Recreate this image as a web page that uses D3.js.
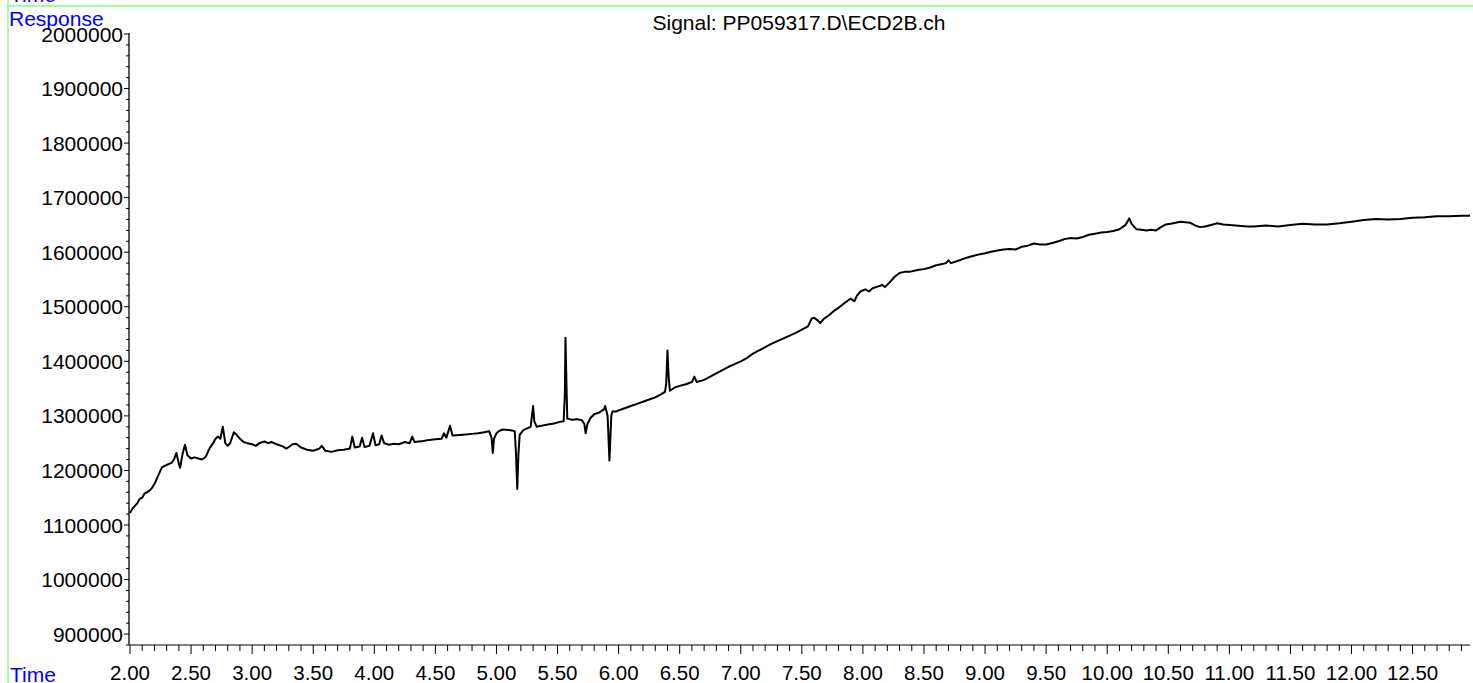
<!DOCTYPE html>
<html><head><meta charset="utf-8">
<script src="https://cdn.jsdelivr.net/npm/d3@7"></script>
<style>body{margin:0;background:#fff}svg{display:block}text{font-family:"Liberation Sans",Arial,sans-serif}</style>
</head><body>
<svg id="c" width="1473" height="683"></svg>
<script>
const title = "Signal: PP059317.D\\ECD2B.ch";
const xTicks = [2.00,2.50,3.00,3.50,4.00,4.50,5.00,5.50,6.00,6.50,7.00,7.50,8.00,8.50,9.00,9.50,10.00,10.50,11.00,11.50,12.00,12.50];
const yTicks = [900000,1000000,1100000,1200000,1300000,1400000,1500000,1600000,1700000,1800000,1900000,2000000];
const times = [2.00,2.02,2.04,2.06,2.08,2.10,2.12,2.14,2.16,2.18,2.20,2.22,2.24,2.26,2.28,2.30,2.32,2.34,2.36,2.38,2.40,2.41,2.43,2.45,2.47,2.50,2.53,2.56,2.59,2.62,2.65,2.68,2.70,2.72,2.74,2.76,2.78,2.80,2.82,2.85,2.87,2.90,2.93,2.96,3.00,3.03,3.06,3.10,3.13,3.16,3.20,3.25,3.28,3.30,3.33,3.36,3.40,3.45,3.50,3.55,3.57,3.60,3.65,3.70,3.75,3.80,3.82,3.84,3.88,3.90,3.92,3.96,3.99,4.01,4.04,4.06,4.08,4.12,4.16,4.20,4.25,4.29,4.31,4.33,4.40,4.45,4.50,4.55,4.57,4.59,4.62,4.64,4.70,4.75,4.80,4.85,4.90,4.94,4.96,4.97,4.98,5.00,5.02,5.05,5.10,5.13,5.15,5.16,5.17,5.18,5.19,5.22,5.26,5.28,5.30,5.31,5.33,5.37,5.42,5.47,5.52,5.55,5.56,5.565,5.575,5.58,5.62,5.66,5.70,5.72,5.73,5.745,5.77,5.80,5.84,5.88,5.89,5.91,5.925,5.94,5.95,5.98,6.00,6.05,6.10,6.15,6.20,6.25,6.30,6.35,6.38,6.39,6.40,6.41,6.42,6.46,6.50,6.55,6.60,6.62,6.64,6.70,6.75,6.80,6.85,6.90,6.95,7.00,7.05,7.10,7.15,7.20,7.25,7.30,7.35,7.40,7.45,7.50,7.55,7.58,7.60,7.63,7.65,7.68,7.72,7.76,7.80,7.84,7.88,7.90,7.93,7.95,7.98,8.02,8.05,8.08,8.12,8.16,8.18,8.22,8.26,8.30,8.34,8.38,8.42,8.46,8.50,8.55,8.60,8.64,8.68,8.70,8.72,8.75,8.80,8.85,8.90,8.95,9.00,9.05,9.10,9.15,9.20,9.25,9.30,9.35,9.40,9.45,9.50,9.55,9.60,9.65,9.70,9.75,9.80,9.85,9.90,9.95,10.00,10.05,10.10,10.15,10.18,10.20,10.24,10.28,10.32,10.36,10.40,10.44,10.48,10.52,10.56,10.60,10.64,10.68,10.72,10.76,10.80,10.85,10.90,10.95,11.00,11.05,11.10,11.15,11.20,11.30,11.40,11.50,11.60,11.70,11.80,11.90,12.00,12.10,12.20,12.30,12.40,12.50,12.60,12.70,12.80,12.90,12.97];
const responses = [1122,1130,1135,1140,1148,1150,1158,1160,1163,1168,1175,1185,1195,1205,1208,1210,1212,1214,1220,1232,1212,1205,1230,1247,1228,1222,1224,1222,1220,1225,1240,1250,1258,1262,1258,1280,1250,1245,1250,1270,1266,1258,1252,1250,1248,1245,1250,1253,1250,1252,1248,1244,1240,1243,1248,1249,1242,1238,1236,1240,1245,1236,1234,1237,1238,1240,1262,1242,1244,1260,1243,1245,1268,1246,1248,1264,1250,1247,1249,1248,1252,1250,1262,1252,1254,1256,1257,1258,1268,1260,1282,1264,1265,1266,1267,1268,1270,1272,1260,1232,1258,1268,1272,1275,1274,1273,1272,1230,1166,1230,1265,1274,1278,1280,1318,1290,1280,1282,1284,1286,1289,1290,1340,1443,1340,1295,1293,1294,1292,1285,1268,1285,1296,1303,1306,1312,1318,1300,1218,1300,1308,1308,1310,1314,1318,1322,1326,1330,1334,1340,1344,1360,1420,1370,1346,1352,1355,1358,1362,1372,1362,1366,1372,1378,1384,1390,1395,1400,1406,1414,1420,1426,1432,1437,1442,1447,1452,1458,1464,1478,1480,1475,1470,1478,1484,1492,1498,1505,1512,1515,1510,1520,1528,1532,1528,1534,1537,1540,1536,1545,1555,1562,1564,1564,1566,1568,1569,1572,1576,1578,1580,1585,1580,1582,1586,1590,1593,1596,1598,1601,1603,1605,1606,1605,1610,1612,1616,1614,1614,1617,1620,1624,1626,1625,1628,1632,1634,1636,1637,1639,1642,1650,1662,1652,1642,1641,1640,1641,1640,1646,1651,1652,1654,1656,1655,1654,1649,1646,1647,1650,1653,1651,1650,1649,1648,1647,1647,1649,1647,1650,1652,1651,1651,1653,1656,1659,1661,1660,1661,1663,1664,1666,1666,1667,1667,1668];

const svg = d3.select("#c");
const x = d3.scaleLinear().domain([2, 12.97]).range([130, 1470]);
const y = d3.scaleLinear().domain([880000, 2000000]).range([645, 34]);

// green frame lines
svg.append("line").attr("x1",8).attr("x2",1473).attr("y1",6).attr("y2",6).attr("stroke","#7dff7d").attr("stroke-width",1.3);
svg.append("line").attr("x1",8).attr("x2",8).attr("y1",0).attr("y2",683).attr("stroke","#7dff7d").attr("stroke-width",1.3);

// blue labels
svg.append("text").attr("x",10).attr("y",2).attr("fill","#0000ff").attr("font-size",21).text("Time");
svg.append("text").attr("x",9).attr("y",26).attr("fill","#0000ff").attr("font-size",21).text("Response");
svg.append("text").attr("x",10).attr("y",682).attr("fill","#0000ff").attr("font-size",21).text("Time");

// title
svg.append("text").attr("x",799).attr("y",30).attr("text-anchor","middle").attr("font-size",21).attr("fill","#000").text(title);

// y axis
const yMinor = d3.range(880000, 2000001, 20000).filter(v => !yTicks.includes(v));
const ya = svg.append("g").attr("transform","translate(129,0)");
ya.append("line").attr("x1",0).attr("x2",0).attr("y1",y(2000000)-1).attr("y2",645).attr("stroke","#000").attr("stroke-width",1.3);
ya.selectAll("line.mi").data(yMinor).enter().append("line").attr("class","mi")
  .attr("x1",-3).attr("x2",0).attr("y1",d=>y(d)).attr("y2",d=>y(d)).attr("stroke","#000");
ya.selectAll("line.ma").data(yTicks).enter().append("line").attr("class","ma")
  .attr("x1",-5).attr("x2",0).attr("y1",d=>y(d)).attr("y2",d=>y(d)).attr("stroke","#000");
ya.selectAll("text").data(yTicks).enter().append("text")
  .attr("x",-6).attr("y",d=>y(d)).attr("dy","0.36em").attr("text-anchor","end").attr("font-size",21).attr("fill","#000")
  .text(d=>d);

// x axis
const xMinor = d3.range(2, 12.97, 0.1).filter(v => Math.abs(v*2 - Math.round(v*2)) > 0.01);
const xa = svg.append("g");
xa.append("line").attr("x1",129).attr("x2",1470).attr("y1",645).attr("y2",645).attr("stroke","#555").attr("stroke-width",1.6);
xa.selectAll("line.mi").data(xMinor).enter().append("line").attr("class","mi")
  .attr("x1",d=>x(d)).attr("x2",d=>x(d)).attr("y1",645).attr("y2",651).attr("stroke","#000");
xa.selectAll("line.ma").data(xTicks).enter().append("line").attr("class","ma")
  .attr("x1",d=>x(d)).attr("x2",d=>x(d)).attr("y1",645).attr("y2",654).attr("stroke","#000");
xa.selectAll("text").data(xTicks).enter().append("text")
  .attr("x",d=>x(d)).attr("y",680).attr("text-anchor","middle").attr("font-size",20.5).attr("fill","#000")
  .text(d=>d.toFixed(2));

// trace
const pts = times.map((t,i)=>[t, responses[i]*1000]);
svg.append("path").datum(pts)
  .attr("d", d3.line().x(d=>x(d[0])).y(d=>y(d[1])))
  .attr("fill","none").attr("stroke","#000").attr("stroke-width",2).attr("stroke-linejoin","round");
</script>
</body></html>
